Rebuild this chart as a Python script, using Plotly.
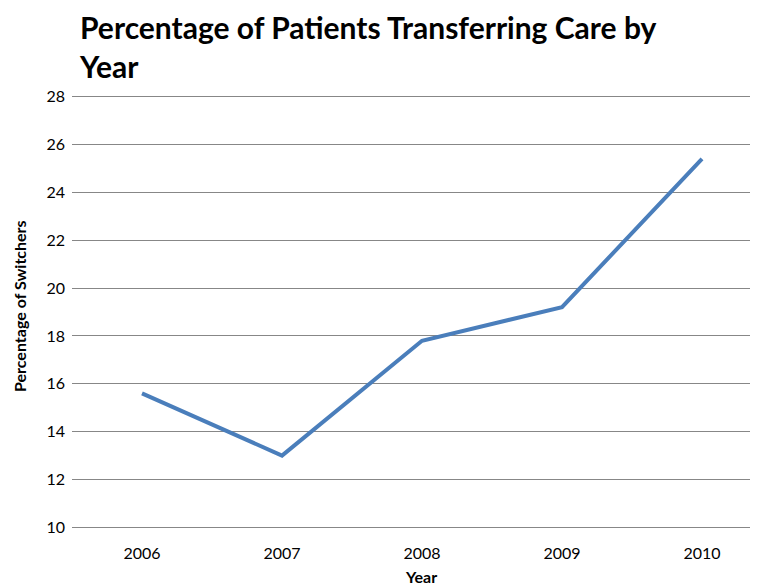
import plotly.graph_objects as go

years = ["2006", "2007", "2008", "2009", "2010"]
pct_switchers = [15.6, 13.0, 17.8, 19.2, 25.4]
y_ticks = [10, 12, 14, 16, 18, 20, 22, 24, 26, 28]

# the page places the figure 8px in from the top-left corner; work in page pixels
OFF = 8
W, H = 758 - OFF, 585 - OFF
Y_MIN, Y_MAX, PAD = 10, 28, 0.15
GRID_TOP, GRID_BOTTOM, PLOT_LEFT, PLOT_RIGHT = 96.5, 527.5, 72, 758
PX_PER_UNIT = (GRID_BOTTOM - GRID_TOP) / (Y_MAX - Y_MIN)
PLOT_TOP = GRID_TOP - PAD * PX_PER_UNIT
PLOT_BOTTOM = GRID_BOTTOM + PAD * PX_PER_UNIT
plot_h = PLOT_BOTTOM - PLOT_TOP
plot_w = PLOT_RIGHT - PLOT_LEFT


def py(page_y):
    return (PLOT_BOTTOM - page_y) / plot_h


def px(page_x):
    return (page_x - PLOT_LEFT) / plot_w


fig = go.Figure()
fig.add_trace(go.Scatter(
    x=years, y=pct_switchers, mode="lines",
    line=dict(color="#4A7EBB", width=4),
    hoverinfo="x+y",
))

fig.add_annotation(
    text="<b>Percentage of Patients Transferring Care by<br>Year</b>",
    font=dict(family="Lato", size=30, color="black"),
    xref="paper", yref="paper", x=px(77), xanchor="left",
    y=py(7), yanchor="top", align="left", showarrow=False,
)
fig.add_annotation(
    text="<b>Year</b>", font=dict(family="Lato", size=16, color="black"),
    xref="paper", yref="paper", x=px(421), xanchor="center",
    y=py(577), yanchor="middle", showarrow=False,
)
fig.add_annotation(
    text="<b>Percentage of Switchers</b>", font=dict(family="Lato", size=16, color="black"),
    xref="paper", yref="paper", x=px(19), xanchor="center",
    y=py(306), yanchor="middle", textangle=-90, showarrow=False,
)

fig.update_layout(
    width=W, height=H,
    paper_bgcolor="white", plot_bgcolor="white",
    margin=dict(l=PLOT_LEFT - OFF, r=0, t=PLOT_TOP - OFF, b=H - (PLOT_BOTTOM - OFF)),
    font=dict(family="Lato", color="black"),
    showlegend=False,
    xaxis=dict(
        type="category", range=[-0.5, 4.4], automargin=False,
        showgrid=False, showline=False, zeroline=False,
        tickfont=dict(size=16), ticks="", ticklabelstandoff=11,
    ),
    yaxis=dict(
        range=[Y_MIN - PAD, Y_MAX + PAD], tickvals=y_ticks, automargin=False,
        showgrid=True, gridcolor="#878787", gridwidth=1,
        zeroline=False, showline=False,
        tickfont=dict(size=16), ticks="", ticklabelstandoff=6,
    ),
)

fig.write_html("out.html")
